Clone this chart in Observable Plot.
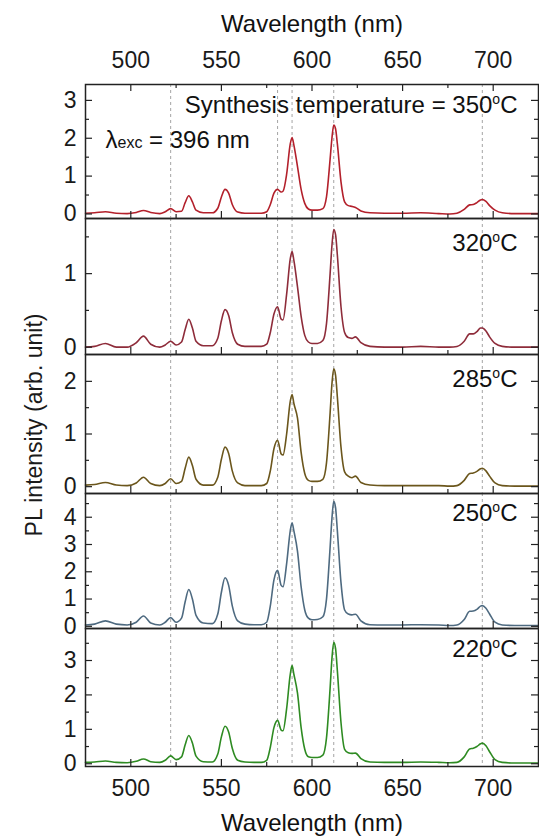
<!DOCTYPE html>
<html>
<head>
<meta charset="utf-8">
<script src="https://cdn.jsdelivr.net/npm/d3@7"></script>
<script src="https://cdn.jsdelivr.net/npm/@observablehq/plot@0.6"></script>
<style>
  body { margin: 0; background: #fff; }
  #chart { position: relative; width: 539px; height: 839px; font-family: 'Liberation Sans', Arial, sans-serif; overflow: hidden; }
  #chart svg { position: absolute; left: 0; overflow: visible; }
  #ylab { position: absolute; left: 34px; top: 425px; transform: translate(-50%, -50%) rotate(-90deg); white-space: nowrap; font-size: 23px; line-height: 1; color: #1a1a1a; }
</style>
</head>
<body>
<div id="chart"><div id="ylab">PL intensity (arb. unit)</div></div>
<script>
// ---- data ----
const wavelength = [475, 480, 486, 492, 498, 503, 507, 511, 516, 519, 522, 525, 528, 530, 532, 534, 536, 540, 545, 548,
  550, 552, 554, 556, 559, 563, 568, 572, 575, 577, 579, 581, 583, 584, 586, 588, 589, 590, 592, 594,
  596, 598, 600, 603, 606, 608, 610, 611, 612, 613, 614, 616, 618, 620, 622, 624, 627, 632, 640, 650,
  660, 670, 676, 680, 684, 687, 689, 691, 693, 694, 696, 698, 701, 705, 712, 725];

const i350 = [0.02, 0.03, 0.06, 0.02, 0.01, 0.04, 0.09, 0.04, 0.01, 0.06, 0.14, 0.06, 0.07, 0.30, 0.48, 0.32, 0.10, 0.03, 0.03, 0.15,
  0.45, 0.65, 0.55, 0.25, 0.05, 0.02, 0.02, 0.02, 0.06, 0.25, 0.55, 0.65, 0.58, 0.60, 1.05, 1.85, 2.02, 1.82, 1.25, 0.65,
  0.28, 0.13, 0.10, 0.10, 0.14, 0.45, 1.45, 2.00, 2.35, 2.25, 1.85, 0.85, 0.32, 0.22, 0.20, 0.17, 0.08, 0.03, 0.02, 0.02,
  0.03, 0.01, 0.00, 0.02, 0.12, 0.24, 0.25, 0.30, 0.37, 0.38, 0.33, 0.22, 0.10, 0.03, 0.01, 0.01];

const i320 = [0.00, 0.01, 0.05, 0.00, 0.00, 0.06, 0.15, 0.04, 0.00, 0.03, 0.08, 0.03, 0.07, 0.24, 0.38, 0.26, 0.08, 0.02, 0.02, 0.12,
  0.36, 0.51, 0.43, 0.20, 0.04, 0.01, 0.01, 0.01, 0.04, 0.20, 0.45, 0.55, 0.38, 0.37, 0.72, 1.20, 1.30, 1.18, 0.82, 0.42,
  0.16, 0.07, 0.05, 0.05, 0.09, 0.32, 1.00, 1.38, 1.60, 1.53, 1.25, 0.55, 0.20, 0.13, 0.12, 0.14, 0.06, 0.01, 0.00, 0.00,
  0.01, 0.00, 0.00, 0.01, 0.08, 0.18, 0.18, 0.21, 0.26, 0.26, 0.22, 0.14, 0.05, 0.01, 0.00, 0.00];

const i285 = [0.03, 0.04, 0.08, 0.03, 0.02, 0.07, 0.18, 0.06, 0.02, 0.06, 0.15, 0.06, 0.10, 0.35, 0.56, 0.40, 0.14, 0.03, 0.03, 0.18,
  0.52, 0.75, 0.63, 0.30, 0.07, 0.02, 0.02, 0.02, 0.06, 0.30, 0.72, 0.88, 0.62, 0.60, 1.00, 1.62, 1.75, 1.58, 1.30, 0.65,
  0.25, 0.12, 0.10, 0.10, 0.14, 0.45, 1.40, 1.95, 2.24, 2.12, 1.70, 0.75, 0.28, 0.20, 0.17, 0.20, 0.08, 0.03, 0.02, 0.02,
  0.02, 0.02, 0.01, 0.02, 0.12, 0.25, 0.26, 0.29, 0.34, 0.35, 0.30, 0.20, 0.07, 0.02, 0.01, 0.01];

const i250 = [0.05, 0.08, 0.20, 0.08, 0.05, 0.15, 0.38, 0.12, 0.05, 0.15, 0.32, 0.15, 0.30, 0.90, 1.35, 1.00, 0.40, 0.12, 0.10, 0.45,
  1.25, 1.78, 1.50, 0.75, 0.20, 0.08, 0.06, 0.06, 0.15, 0.75, 1.70, 2.05, 1.50, 1.45, 2.30, 3.50, 3.80, 3.50, 2.75, 1.45,
  0.60, 0.30, 0.24, 0.25, 0.35, 1.00, 2.90, 3.95, 4.58, 4.35, 3.50, 1.60, 0.60, 0.45, 0.42, 0.44, 0.20, 0.06, 0.05, 0.05,
  0.06, 0.05, 0.03, 0.05, 0.25, 0.55, 0.56, 0.62, 0.74, 0.76, 0.66, 0.45, 0.15, 0.05, 0.03, 0.03];

const i220 = [0.04, 0.05, 0.08, 0.04, 0.03, 0.07, 0.14, 0.06, 0.04, 0.10, 0.23, 0.12, 0.20, 0.55, 0.82, 0.60, 0.22, 0.06, 0.05, 0.28,
  0.78, 1.09, 0.92, 0.45, 0.10, 0.05, 0.04, 0.04, 0.10, 0.48, 1.05, 1.26, 0.98, 0.96, 1.60, 2.60, 2.85, 2.60, 2.05, 1.05,
  0.42, 0.20, 0.18, 0.18, 0.25, 0.75, 2.20, 3.05, 3.53, 3.35, 2.70, 1.20, 0.42, 0.32, 0.30, 0.31, 0.15, 0.05, 0.04, 0.04,
  0.05, 0.04, 0.03, 0.04, 0.20, 0.43, 0.45, 0.50, 0.58, 0.60, 0.52, 0.35, 0.12, 0.04, 0.02, 0.02];

const guideLines = [522, 581, 589, 612, 694];
const xMajor = [500, 550, 600, 650, 700];
const xMinor = [525, 575, 625, 675];
const xLabel = "Wavelength (nm)";
const labels = ["Synthesis temperature = 350°C", "320°C", "285°C", "250°C", "220°C"];
const excLabel = "λexc = 396 nm";

// ---- layout ----
const WIDTH = 539, ML = 85, MR = 1;
const FW = WIDTH - ML - MR;
const FONT = "'Liberation Sans', Arial, sans-serif";

const panels = [
  {values: i350, color: "#b3202b", top: 0,   height: 218, mt: 84, mb: 0,  domain: [-0.12, 3.42], major: [0,1,2,3],   minor: [0.5,1.5,2.5],         label: labels[0], ldy: 21, axis: "top"},
  {values: i320, color: "#8e2c3a", top: 218, height: 136, mt: 0,  mb: 0,  domain: [-0.10, 1.75], major: [0,1],       minor: [0.5,1.5],             label: labels[1], ldy: 25},
  {values: i285, color: "#6b561c", top: 354, height: 139, mt: 0,  mb: 0,  domain: [-0.13, 2.51], major: [0,1,2],     minor: [0.5,1.5],             label: labels[2], ldy: 25},
  {values: i250, color: "#4e6a80", top: 493, height: 135, mt: 0,  mb: 0,  domain: [-0.08, 4.87], major: [0,1,2,3,4], minor: [0.5,1.5,2.5,3.5,4.5], label: labels[3], ldy: 20},
  {values: i220, color: "#2e8b22", top: 628, height: 211, mt: 0,  mb: 73, domain: [-0.08, 3.93], major: [0,1,2,3],   minor: [0.5,1.5,2.5,3.5],     label: labels[4], ldy: 21, axis: "bottom"}
];

const chart = document.getElementById("chart");
const SVGNS = "http://www.w3.org/2000/svg";

function tspan(txt, attrs) {
  const t = document.createElementNS(SVGNS, "tspan");
  for (const k in attrs) t.setAttribute(k, attrs[k]);
  t.textContent = txt;
  return t;
}

panels.forEach((p, idx) => {
  const H = p.height - p.mt - p.mb;
  const marks = [
    Plot.ruleX(guideLines, {x: d => d, stroke: "#9a9a9a", strokeWidth: 0.9, strokeDasharray: "3,3"}),
    Plot.line(wavelength, {x: wavelength, y: p.values, stroke: p.color, strokeWidth: 1.6, curve: "monotone-x"}),
    Plot.tickX(xMajor, {x: d => d, insetTop: H - 7, stroke: "#222", strokeWidth: 1.2}),
    Plot.tickX(xMinor, {x: d => d, insetTop: H - 4, stroke: "#222", strokeWidth: 1.2}),
    Plot.tickY(p.major, {y: d => d, insetRight: FW - 7, stroke: "#222", strokeWidth: 1.2}),
    Plot.tickY(p.major, {y: d => d, insetLeft: FW - 7, stroke: "#222", strokeWidth: 1.2}),
    Plot.tickY(p.minor, {y: d => d, insetRight: FW - 4, stroke: "#222", strokeWidth: 1.2}),
    Plot.tickY(p.minor, {y: d => d, insetLeft: FW - 4, stroke: "#222", strokeWidth: 1.2}),
    Plot.axisY(p.major, {anchor: "left", tickSize: 0, tickPadding: 9, label: null, fontSize: 23, tickFormat: d => String(d)}),
    Plot.frame({stroke: "#222", strokeWidth: 1.5}),
    Plot.text([p.label], {frameAnchor: "top-right", textAnchor: "end", lineAnchor: "middle", dx: -21, dy: p.ldy, fontSize: 24, fill: "#111"})
  ];
  if (p.axis === "top") {
    marks.push(Plot.tickX(xMajor, {x: d => d, insetBottom: H - 7, stroke: "#222", strokeWidth: 1.2}));
    marks.push(Plot.tickX(xMinor, {x: d => d, insetBottom: H - 4, stroke: "#222", strokeWidth: 1.2}));
    marks.push(Plot.axisX(xMajor, {anchor: "top", tickSize: 0, tickPadding: 17, label: null, fontSize: 23, tickFormat: d => String(d)}));
    marks.push(Plot.text([xLabel], {frameAnchor: "top", lineAnchor: "middle", dy: -60, fontSize: 24, fill: "#111"}));
    marks.push(Plot.text([excLabel], {frameAnchor: "top-left", textAnchor: "start", lineAnchor: "middle", dx: 20, dy: 56, fontSize: 24, fill: "#111"}));
  }
  if (p.axis === "bottom") {
    marks.push(Plot.axisX(xMajor, {anchor: "bottom", tickSize: 0, tickPadding: 13, label: null, fontSize: 23, tickFormat: d => String(d)}));
    marks.push(Plot.text([xLabel], {frameAnchor: "bottom", lineAnchor: "middle", dy: 57, fontSize: 24, fill: "#111"}));
  }
  const svg = Plot.plot({
    width: WIDTH,
    height: p.height,
    marginLeft: ML,
    marginRight: MR,
    marginTop: p.mt,
    marginBottom: p.mb,
    x: {domain: [475, 725], axis: p.axis ? undefined : null},
    y: {domain: p.domain},
    style: {fontFamily: FONT, color: "#1a1a1a", background: "transparent", overflow: "visible"},
    marks
  });
  svg.style.top = p.top + "px";
  svg.style.zIndex = String(10 - idx);
  // superscript degree and small "exc"
  svg.querySelectorAll("text").forEach(t => {
    const s = t.textContent;
    if (s.includes("°C")) {
      const head = s.split("°C")[0];
      t.textContent = head;
      t.appendChild(tspan("o", {"font-size": "14px", dy: "-9"}));
      t.appendChild(tspan("C", {"font-size": "24px", dy: "9"}));
    } else if (s.startsWith("λexc")) {
      t.textContent = "λ";
      t.appendChild(tspan("exc", {"font-size": "16px"}));
      t.appendChild(tspan(s.slice(4), {"font-size": "24px"}));
    }
  });
  chart.appendChild(svg);
});
</script>
</body>
</html>
